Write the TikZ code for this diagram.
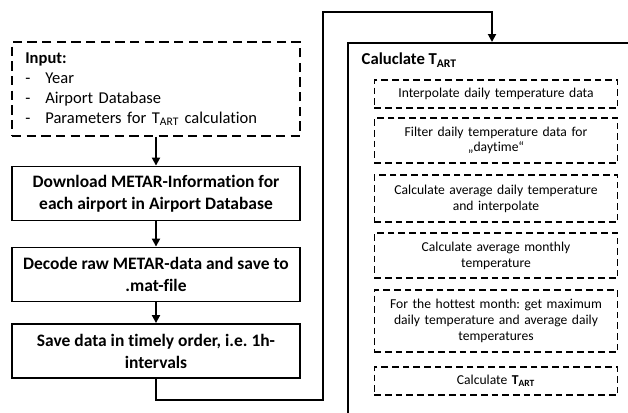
\documentclass[tikz,border=0pt]{standalone}
\usepackage{fontspec}
\setmainfont{Carlito}[Ligatures=NoCommon]
\frenchspacing
\usetikzlibrary{arrows.meta}
\tikzset{
  procbox/.style={rectangle, draw, line width=1.4pt, align=center,
                  font=\bfseries\fontsize{13.1}{16.5}\selectfont,
                  minimum width=216pt, minimum height=40.5pt, inner sep=2pt},
  inbox/.style={rectangle, draw, line width=1.4pt, dash pattern=on 7pt off 4pt,
                align=left, font=\fontsize{12.4}{15}\selectfont,
                text width=196pt, minimum width=216pt, minimum height=70.5pt},
  bigbox/.style={rectangle, draw, line width=1.4pt, anchor=north west,
                 minimum width=220pt, minimum height=291pt},
  stepbox/.style={rectangle, draw, line width=0.8pt, dash pattern=on 5pt off 3pt,
                  align=center, font=\fontsize{10.2}{11.8}\selectfont,
                  text width=176pt, minimum width=180pt},
  hdr/.style={font=\bfseries\fontsize{12.5}{15}\selectfont, anchor=west},
  flow/.style={-{Triangle[length=6pt, width=6pt]}, line width=1.4pt}
}
\newcommand{\tart}{T\textsubscript{ART}}
\newcommand{\itm}[1]{\makebox[15pt][l]{-}#1}

\begin{document}
\begin{tikzpicture}[x=0.75pt, y=-0.75pt]
\path[use as bounding box, clip] (0,0) rectangle (628,412);
% left column
\node[inbox] (input) at (156,89) {\textbf{Input:}\\ \itm{Year}\\ \itm{Airport Database}\\ \itm{Parameters for \tart{} calculation}};
\node[procbox] (dl) at (156,193.5) {Download METAR-Information for\\ each airport in Airport Database};
\node[procbox] (dec) at (156,274.5) {Decode raw METAR-data and save to\\ .mat-file};
\node[procbox] (save) at (156,351) {Save data in timely order, i.e. 1h-\\ intervals};
% right block
\node[bigbox] (calc) at (347,42) {};
\node[hdr] (calchdr) at (357,60) {Caluclate \tart};
\node[stepbox, minimum height=21pt] (s1) at (496,94) {Interpolate daily temperature data};
\node[stepbox, minimum height=33.75pt] (s2) at (496,140.5) {Filter daily temperature data for\\ „daytime“};
\node[stepbox, minimum height=35.25pt] (s3) at (496,198.5) {Calculate average daily temperature\\ and interpolate};
\node[stepbox, minimum height=33.75pt] (s4) at (496,255.5) {Calculate average monthly\\ temperature};
\node[stepbox, minimum height=46.5pt] (s5) at (496,321) {For the hottest month: get maximum\\ daily temperature and average daily\\ temperatures};
\node[stepbox, minimum height=21pt] (s6) at (496,381) {Calculate \textbf{\tart}};
% connectors
\coordinate (loopA) at (323,400);
\coordinate (loopB) at (492,12);
\draw[flow] (input) -- (dl);
\draw[flow] (dl) -- (dec);
\draw[flow] (dec) -- (save);
\draw[flow] (save.south) |- (loopA) |- (loopB) -- (loopB |- calc.north);
\end{tikzpicture}
\end{document}
